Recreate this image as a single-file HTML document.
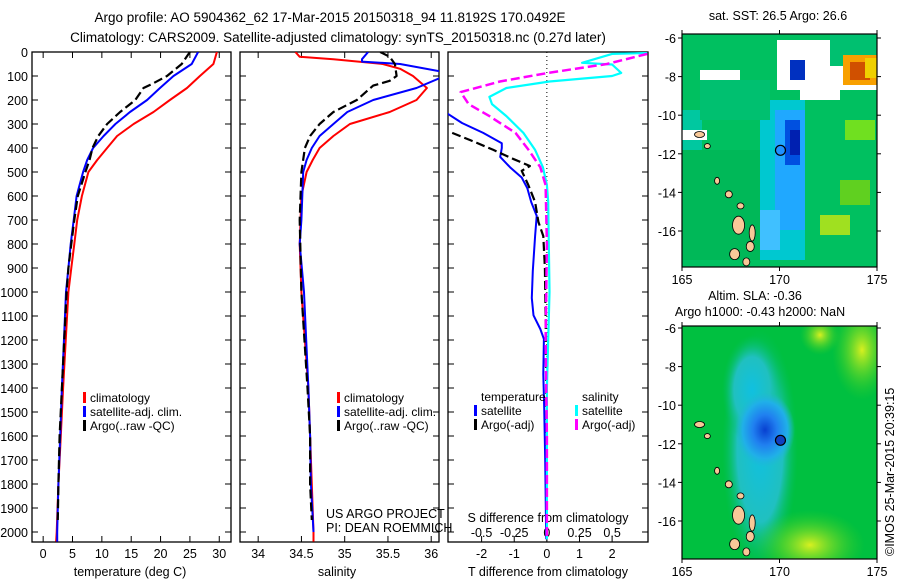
<!DOCTYPE html>
<html><head><meta charset="utf-8"><style>
body{margin:0;background:#fff;}
svg{display:block;font-family:"Liberation Sans",sans-serif;}
text{font-size:12.5px;fill:#000;}
</style></head><body>
<svg id="fig" width="900" height="580" viewBox="0 0 900 580" xmlns="http://www.w3.org/2000/svg">
<text x="330" y="22" text-anchor="middle" style="font-size:13.5px">Argo profile: AO 5904362_62 17-Mar-2015 20150318_94 11.8192S 170.0492E</text>
<text x="338" y="42" text-anchor="middle" style="font-size:13.5px">Climatology: CARS2009. Satellite-adjusted climatology: synTS_20150318.nc (0.27d later)</text>
<g id="plots"></g>
<g id="maps"></g>
<text transform="translate(894,556) rotate(-90)" style="font-size:12.5px">©IMOS 25-Mar-2015 20:39:15</text>
</svg>
<script>
// ---------- data ----------
const tDepth=[0,50,100,150,200,250,300,350,400,450,500,600,700,800,900,1000,1400,1600,1800,2000,2040];
const tClim=[29.6,29.0,26.7,24.5,21.6,18.8,15.4,12.6,10.9,9.2,7.7,6.6,5.8,5.3,4.8,4.3,3.4,3.0,2.6,2.3,2.2];
const tSat=[26.4,25.3,22.2,19.9,17.7,14.8,12.3,10.3,8.5,7.5,6.8,5.7,5.2,4.7,4.3,3.9,3.2,2.9,2.6,2.4,2.4];
const aDepth=[0,50,100,130,150,200,250,300,350,400,450,500,600,700,800,900,1000,1400,1600,1800,1950];
const tArgo=[25.0,23.6,21.1,18.8,17.1,15.7,13.1,10.9,9.4,8.4,7.9,7.2,5.9,5.3,4.8,4.3,4.0,3.2,2.8,2.6,2.5];
const sClimDepth=[0,20,30,50,70,100,150,200,250,300,350,400,450,500,600,800,1000,1400,1600,1800,2000,2040];
const sClim=[34.43,34.48,34.87,35.44,35.64,35.79,35.95,35.83,35.52,35.06,34.87,34.71,34.63,34.56,34.5,34.48,34.5,34.58,34.6,34.62,34.64,34.64];
const sSatDepth=[0,30,40,50,80,100,110,150,200,250,300,350,400,450,500,700,800,1000,1400,1600,1800,2000];
const sSat=[35.27,35.2,35.2,35.64,36.09,36.3,36.09,35.83,35.33,35.03,34.87,34.71,34.62,34.56,34.52,34.5,34.48,34.53,34.58,34.6,34.61,34.64];
const sArgoDepth=[0,20,50,100,120,140,200,250,300,350,400,500,700,1000,1400,1600,1800,1950];
const sArgo=[35.41,35.52,35.58,35.6,35.52,35.33,35.14,34.87,34.71,34.6,34.54,34.5,34.48,34.5,34.57,34.6,34.6,34.62];
const dTSatDepth=[252,296,337,380,400,437,480,523,567,625,683,767,912,1025,1097,1154,1196,1342,1483,1700,2030];
const dTSat=[-3.1,-2.6,-1.95,-1.38,-1.38,-1.43,-1.13,-0.77,-0.6,-0.48,-0.31,-0.36,-0.43,-0.46,-0.41,-0.2,-0.09,-0.11,-0.08,-0.05,-0.02];
const dTArgoDepth=[337,367,408,445,475,495,554,625,708,767,900,1100,1400,1700,1950];
const dTArgo=[-2.9,-2.35,-1.64,-1.04,-0.52,-0.77,-0.57,-0.36,-0.26,-0.11,-0.06,-0.04,-0.02,0.0,0.0];
const dSSatDepth=[4,8,45,52,87,100,123,150,187,217,267,337,408,480,554,625,800,1000,1400,2030];
const dSSat=[0.77,0.5,0.27,0.5,0.57,0.5,0.02,-0.31,-0.44,-0.42,-0.31,-0.18,-0.09,-0.03,0.0,0.01,0.015,0.02,0.0,0.0];
const dSArgoDepth=[8,50,87,123,167,217,267,337,408,480,554,800,1200,1600,2030];
const dSArgo=[0.77,0.46,0.01,-0.36,-0.66,-0.6,-0.44,-0.24,-0.14,-0.05,-0.01,0.0,-0.01,0.0,0.0];
const depthTicks=[0,100,200,300,400,500,600,700,800,900,1000,1100,1200,1300,1400,1500,1600,1700,1800,1900,2000];
const tTicks=[0,5,10,15,20,25,30];
const sTicks=[34,34.5,35,35.5,36];
const sTickLabels=["34","34.5","35","35.5","36"];
const dTTicks=[-2,-1,0,1,2];
const dSTicks=[-0.5,-0.25,0,0.25,0.5];
const dSTickLabels=["-0.5","-0.25","0","0.25","0.5"];
const mapLonTicks=[165,170,175];
const mapLatTicks=[-6,-8,-10,-12,-14,-16];
const argoLon=170.0492, argoLat=-11.8192;

// ---------- helpers ----------
const NS="http://www.w3.org/2000/svg";
function mk(tag,attrs,parent){const e=document.createElementNS(NS,tag);for(const k in attrs)e.setAttribute(k,attrs[k]);(parent||document.getElementById('plots')).appendChild(e);return e;}
const top0=52, bot=542;
const yD=d=>top0+d*0.24;
const P1={x0:32,x1:231,v0:-1.9,v1:32.0};
const P2={x0:240,x1:439,v0:33.79,v1:36.09};
const P3={x0:448,x1:648,v0:-3.03,v1:3.1};
const xOf=(P,v)=>P.x0+(v-P.v0)/(P.v1-P.v0)*(P.x1-P.x0);
const xS3=v=>xOf(P3,v*4);

function panel(P,name,clipId){
  const g=mk('g',{});
  
  
  const cp=mk('clipPath',{id:clipId},g);
  mk('rect',{x:P.x0,y:top0,width:P.x1-P.x0,height:bot-top0},cp);
  const r=mk('rect',{x:P.x0,y:top0,width:P.x1-P.x0,height:bot-top0,fill:'none',stroke:'#000','stroke-width':1.3},g);
  
  
  depthTicks.forEach(d=>{
    mk('line',{x1:P.x0,x2:P.x0+6,y1:yD(d),y2:yD(d),stroke:'#000'},g);
    mk('line',{x1:P.x1,x2:P.x1-6,y1:yD(d),y2:yD(d),stroke:'#000'},g);
  });
  return g;
}
function line(g,xf,vals,depths,color,dash,name,clipId,w){
  const pts=vals.map((v,i)=>xf(v).toFixed(1)+','+yD(depths[i]).toFixed(1)).join(' ');
  const a={points:pts,fill:'none',stroke:color,'stroke-width':w||2,'clip-path':'url(#'+clipId+')','stroke-linejoin':'round'};
  if(dash)a['stroke-dasharray']=dash;
  const pl=mk('polyline',a,g);
  
  
}
function txt(g,x,y,s,anchor,name,size){
  const t=mk('text',{x:x,y:y,'text-anchor':anchor||'start'},g);
  if(size)t.style.fontSize=size+'px';
  t.textContent=s;
  
  
  return t;
}
function legend(g,x,y,color,label,name){
  const l=mk('rect',{x:x,y:y-10,width:3,height:11,fill:color},g);
  
  
  txt(g,x+7,y,label,'start',name,12);
}

// depth axis labels
const ya=mk('g',{});


depthTicks.forEach(d=>txt(ya,28,yD(d)+5,String(d),'end','depth-tick-label',12.5));

// Panel 1: temperature
const g1=panel(P1,'temperature-panel','c1');
tTicks.forEach(v=>{
  mk('line',{x1:xOf(P1,v),x2:xOf(P1,v),y1:bot,y2:bot-6,stroke:'#000'},g1);
  mk('line',{x1:xOf(P1,v),x2:xOf(P1,v),y1:top0,y2:top0+6,stroke:'#000'},g1);
  txt(g1,xOf(P1,v),558,String(v),'middle','temperature-tick-label',12.5);
});
txt(g1,130,576,'temperature (deg C)','middle','temperature-axis-title',12.5);
line(g1,v=>xOf(P1,v),tClim,tDepth,'#f00',null,'temperature-climatology-line','c1');
line(g1,v=>xOf(P1,v),tSat,tDepth,'#00f',null,'temperature-satellite-line','c1');
line(g1,v=>xOf(P1,v),tArgo,aDepth,'#000','9,4','temperature-argo-line','c1',2.2);
legend(g1,83,402,'#f00','climatology','legend-climatology');
legend(g1,83,416,'#00f','satellite-adj. clim.','legend-satellite-adj');
legend(g1,83,430,'#000','Argo(..raw -QC)','legend-argo');

// Panel 2: salinity
const g2=panel(P2,'salinity-panel','c2');
sTicks.forEach((v,i)=>{
  mk('line',{x1:xOf(P2,v),x2:xOf(P2,v),y1:bot,y2:bot-6,stroke:'#000'},g2);
  mk('line',{x1:xOf(P2,v),x2:xOf(P2,v),y1:top0,y2:top0+6,stroke:'#000'},g2);
  txt(g2,xOf(P2,v),558,sTickLabels[i],'middle','salinity-tick-label',12.5);
});
txt(g2,337,576,'salinity','middle','salinity-axis-title',12.5);
line(g2,v=>xOf(P2,v),sClim,sClimDepth,'#f00',null,'salinity-climatology-line','c2');
line(g2,v=>xOf(P2,v),sSat,sSatDepth,'#00f',null,'salinity-satellite-line','c2');
line(g2,v=>xOf(P2,v),sArgo,sArgoDepth,'#000','9,4','salinity-argo-line','c2',2.2);
legend(g2,337,402,'#f00','climatology','legend-climatology');
legend(g2,337,416,'#00f','satellite-adj. clim.','legend-satellite-adj');
legend(g2,337,430,'#000','Argo(..raw -QC)','legend-argo');
txt(g2,326,518,'US ARGO PROJECT','start','project-credit',12.5);
txt(g2,326,532,'PI: DEAN ROEMMICH','start','pi-credit',12.5);

// Panel 3: differences
const g3=panel(P3,'difference-panel','c3');
mk('line',{x1:xOf(P3,0),x2:xOf(P3,0),y1:top0,y2:bot,stroke:'#000','stroke-dasharray':'1,3'},g3);
dTTicks.forEach(v=>{
  mk('line',{x1:xOf(P3,v),x2:xOf(P3,v),y1:bot,y2:bot-6,stroke:'#000'},g3);
  txt(g3,xOf(P3,v),558,String(v),'middle','t-diff-tick-label',12.5);
});
dSTicks.forEach((v,i)=>{
  txt(g3,xS3(v),537,dSTickLabels[i],'middle','s-diff-tick-label',12.5);
});
txt(g3,548,576,'T difference from climatology','middle','t-diff-axis-title',12.5);
txt(g3,548,522,'S difference from climatology','middle','s-diff-axis-title',12.5);
line(g3,v=>xOf(P3,v),dTSat,dTSatDepth,'#00f',null,'t-diff-satellite-line','c3');
line(g3,v=>xOf(P3,v),dTArgo,dTArgoDepth,'#000','9,4','t-diff-argo-line','c3',2.2);
line(g3,xS3,dSSat,dSSatDepth,'#0ff',null,'s-diff-satellite-line','c3',2.2);
line(g3,xS3,dSArgo,dSArgoDepth,'#f0f','9,4','s-diff-argo-line','c3',2.5);
txt(g3,481,401,'temperature','start','legend-temperature-heading',12);
legend(g3,474,415,'#00f','satellite','legend-t-satellite');
legend(g3,474,429,'#000','Argo(-adj)','legend-t-argo');
txt(g3,582,401,'salinity','start','legend-salinity-heading',12);
legend(g3,575,415,'#0ff','satellite','legend-s-satellite');
legend(g3,575,429,'#f0f','Argo(-adj)','legend-s-argo');

// ---------- maps ----------
const M=document.getElementById('maps');
function mapFrame(y0,name,clip){
  const g=mk('g',{},M);
  
  
  const cp=mk('clipPath',{id:clip},g);
  mk('rect',{x:682,y:y0,width:195,height:233},cp);
  return g;
}
const lonX=lon=>682+(lon-165)*19.5;
function axes(g,y0,latY){
  mk('rect',{x:682,y:y0,width:195,height:233,fill:'none',stroke:'#000','stroke-width':1.2},g);
  mapLonTicks.forEach(l=>{
    mk('line',{x1:lonX(l),x2:lonX(l),y1:y0+233,y2:y0+237,stroke:'#000'},g);
    mk('line',{x1:lonX(l),x2:lonX(l),y1:y0,y2:y0-4,stroke:'#000'},g);
    txt(g,lonX(l),y0+250,String(l),'middle','map-lon-label',12.5);
  });
  mapLatTicks.forEach(l=>{
    mk('line',{x1:678,x2:682,y1:latY(l),y2:latY(l),stroke:'#000'},g);
    mk('line',{x1:877,x2:881,y1:latY(l),y2:latY(l),stroke:'#000'},g);
    txt(g,676,latY(l)+5,String(l),'end','map-lat-label',12.5);
  });
}
function islands(g,latY,clip){
  const pts=[[165.9,-11.0],[166.3,-11.6],[166.8,-13.4],[167.4,-14.1],[168.0,-14.7],[167.9,-15.7],[168.6,-16.1],[168.5,-16.8],[167.7,-17.2],[168.3,-17.6]];
  const sz=[[8,4],[4,3],[3,5],[5,5],[5,4],[10,16],[4,14],[6,8],[8,9],[5,6]];
  pts.forEach((p,i)=>{
    const e=mk('ellipse',{cx:lonX(p[0]),cy:latY(p[1]),rx:sz[i][0]/2+1,ry:sz[i][1]/2+1,fill:'#f8c898',stroke:'#000','stroke-width':0.8,'clip-path':'url(#'+clip+')'},g);
    
    
  });
}
// top SST map
const latA=l=>38+(-6-l)*19.3;
const gA=mapFrame(34,'sst-map','mA');
txt(gA,778,20,'sat. SST: 26.5 Argo: 26.6','middle','sst-map-title',12.5);
const bg=mk('g',{'clip-path':'url(#mA)'},gA);
mk('rect',{x:682,y:34,width:195,height:233,fill:'#00c060'},bg);
[[682,110,20,90,'#00c8a0'],[682,150,90,110,'#00b858'],[760,100,45,160,'#00c8d0'],[775,110,30,120,'#20a8ff'],[785,120,15,45,'#0050e0'],[790,130,10,25,'#0020b0'],
 [777,40,100,50,'#fff'],[830,34,47,32,'#00c070'],[843,55,34,30,'#f8a000'],[850,62,20,18,'#d05000'],[865,58,12,20,'#f0d000'],[800,80,40,20,'#fff'],
 [790,60,15,20,'#0030c0'],[820,215,30,20,'#a0e020'],[840,180,30,25,'#60d020'],[845,120,30,20,'#70e020'],[682,130,25,10,'#fff'],[700,70,40,14,'#fff'],
 [700,80,70,40,'#00c070'],[760,210,20,40,'#40c0ff']].forEach(r=>{
  const e=mk('rect',{x:r[0],y:r[1],width:r[2],height:r[3],fill:r[4]},bg);
  
  
});
islands(gA,latA,'mA');
const c1=mk('circle',{cx:lonX(argoLon),cy:latA(argoLat),r:5,fill:'#2090ff',stroke:'#000','stroke-width':1.2},gA);


axes(gA,34,latA);

// bottom SLA map
const latB=l=>328+(-6-l)*19.3;
const gB=mapFrame(326,'sla-map','mB');
txt(gB,755,300,'Altim. SLA: -0.36','middle','sla-map-title',12.5);
txt(gB,760,316,'Argo h1000: -0.43 h2000: NaN','middle','sla-map-subtitle',12.5);
const defs=mk('defs',{},gB);
const rg=mk('radialGradient',{id:'blob',cx:'0.5',cy:'0.5',r:'0.5'},defs);
[['0','#0840d0'],['0.4','#2080f0'],['0.75','#20b0e8'],['1','#20b8d0']].forEach(s=>mk('stop',{offset:s[0],'stop-color':s[1],'stop-opacity':s[0]==='1'?0:1},rg));
const rgc=mk('radialGradient',{id:'cyan',cx:'0.5',cy:'0.5',r:'0.5'},defs);
[['0','#10c0e0'],['0.6','#20c0c0'],['1','#00c060']].forEach(s=>mk('stop',{offset:s[0],'stop-color':s[1],'stop-opacity':s[0]==='1'?0:1},rgc));
const rg2=mk('radialGradient',{id:'yel',cx:'0.5',cy:'0.5',r:'0.5'},defs);
[['0','#d8f020'],['1','#40d020']].forEach(s=>mk('stop',{offset:s[0],'stop-color':s[1],'stop-opacity':s[0]==='1'?0:1},rg2));
const bb=mk('g',{'clip-path':'url(#mB)'},gB);
mk('rect',{x:682,y:326,width:195,height:233,fill:'#00c040'},bb);
mk('ellipse',{cx:760,cy:450,rx:38,ry:120,fill:'url(#cyan)'},bb);
mk('ellipse',{cx:752,cy:390,rx:30,ry:55,fill:'url(#cyan)'},bb);
mk('ellipse',{cx:765,cy:430,rx:30,ry:38,fill:'url(#blob)'},bb);
mk('ellipse',{cx:810,cy:545,rx:55,ry:35,fill:'url(#yel)'},bb);
mk('ellipse',{cx:862,cy:350,rx:30,ry:50,fill:'url(#yel)'},bb);
mk('ellipse',{cx:820,cy:335,rx:20,ry:20,fill:'url(#yel)'},bb);
islands(gB,latB,'mB');
const c2=mk('circle',{cx:lonX(argoLon),cy:latB(argoLat),r:5,fill:'#1040c0',stroke:'#000','stroke-width':1.2},gB);


axes(gB,326,latB);
</script>
</body></html>
